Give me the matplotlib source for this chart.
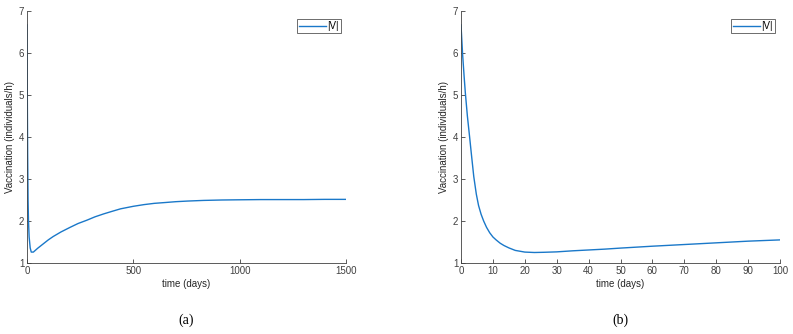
import matplotlib.pyplot as plt

# panel (a): long run, 0-1500 days
t_long = [0, 1, 2, 3, 5, 7, 10, 15, 20, 30, 50, 75, 100, 123, 160, 203, 240, 282, 320, 361, 400,
          440, 500, 550, 598, 650, 700, 756, 830, 915, 1000, 1100, 1200, 1300, 1400, 1500]
v_long = [6.67, 5.4, 4.5, 3.6, 2.5, 2.0, 1.62, 1.36, 1.26, 1.26, 1.35, 1.45, 1.55, 1.63, 1.74,
          1.85, 1.94, 2.02, 2.1, 2.17, 2.23, 2.29, 2.35, 2.39, 2.42, 2.44, 2.46, 2.475, 2.49, 2.5,
          2.505, 2.51, 2.51, 2.51, 2.515, 2.515]

# panel (b): first 100 days
t_short = [0, 0.5, 1, 1.35, 2, 2.7, 3.3, 4.0, 4.8, 5.5, 6.3, 7.1, 8, 9, 10, 11, 12.3, 13.5, 15,
           17, 20, 23, 26, 30, 35, 40, 45, 50, 60, 70, 80, 90, 100]
v_short = [6.67, 5.97, 5.42, 5.06, 4.5, 4.0, 3.56, 3.06, 2.64, 2.37, 2.16, 2.0, 1.85, 1.72,
           1.62, 1.55, 1.47, 1.415, 1.36, 1.3, 1.26, 1.25, 1.255, 1.265, 1.29, 1.31, 1.33, 1.355,
           1.4, 1.44, 1.48, 1.52, 1.55]

x_ticks_long = [0, 500, 1000, 1500]
x_ticks_short = [0, 10, 20, 30, 40, 50, 60, 70, 80, 90, 100]
y_ticks = [1, 2, 3, 4, 5, 6, 7]

line_col = '#1a78c9'
axis_col = '#404040'
fs = 7

plt.rcParams['font.family'] = ['Liberation Sans', 'DejaVu Sans']

fig = plt.figure(figsize=(7.93, 3.34), dpi=100)
ax1 = fig.add_axes([27 / 793, 71 / 334, 319 / 793, 252 / 334])
ax2 = fig.add_axes([461 / 793, 71 / 334, 319 / 793, 252 / 334])

panels = [(ax1, t_long, v_long, x_ticks_long, '(a)'),
          (ax2, t_short, v_short, x_ticks_short, '(b)')]

for ax, t, v, xt, tag in panels:
    ax.plot(t, v, color=line_col, lw=1.0, label='|V|')
    ax.set_xlim(xt[0], xt[-1])
    ax.set_ylim(1, 7)
    ax.set_xticks(xt)
    ax.set_yticks(y_ticks)
    for s in ['top', 'right']:
        ax.spines[s].set_visible(False)
    for s in ['left', 'bottom']:
        ax.spines[s].set_color(axis_col)
        ax.spines[s].set_linewidth(0.6)
    ax.tick_params(direction='in', length=3, width=0.6, colors=axis_col,
                   labelsize=fs, pad=2)
    ax.set_xlabel('time (days)', fontsize=fs, color='#262626', labelpad=2)
    ax.set_ylabel('Vaccination (individuals/h)', fontsize=fs, color='#262626', labelpad=3)
    leg = ax.legend(loc='upper right', bbox_to_anchor=(0.985, 0.97), fontsize=fs,
                    handlelength=2.8, handletextpad=0.1, borderpad=0.25,
                    fancybox=False, framealpha=1, borderaxespad=0)
    leg.get_frame().set_edgecolor('#555555')
    leg.get_frame().set_linewidth(0.6)
    ax.text(0.5, -0.2, tag, transform=ax.transAxes, ha='center', va='top',
            fontsize=10, family='Liberation Serif')

fig.savefig('out.png', dpi=100)
